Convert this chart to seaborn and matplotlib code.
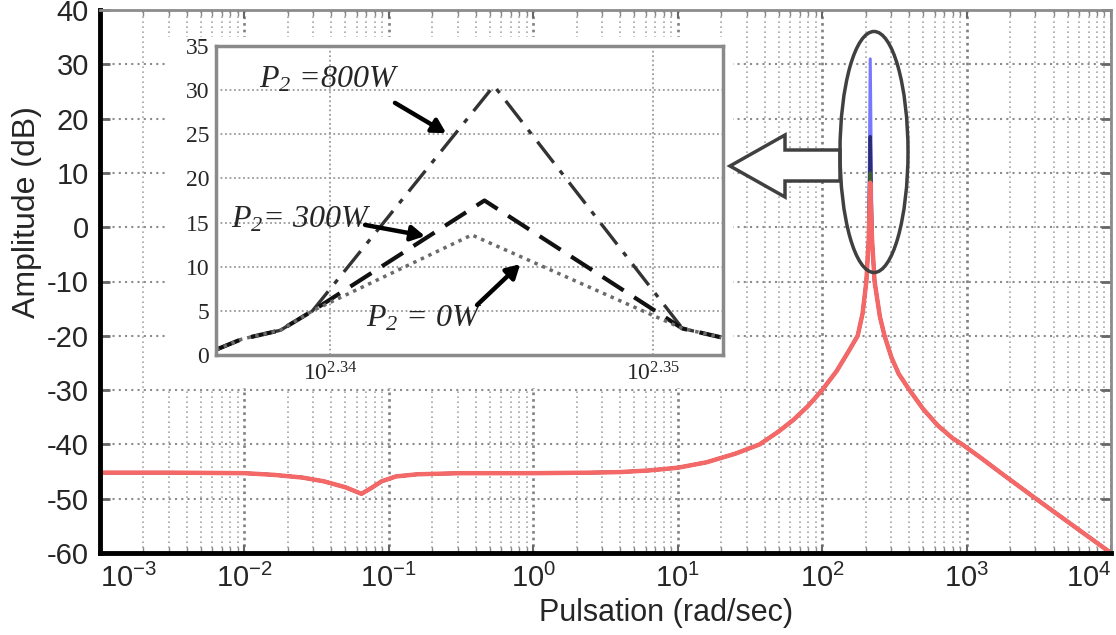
import numpy as np
import matplotlib
matplotlib.use("Agg")
import matplotlib.pyplot as plt
import seaborn as sns
from matplotlib.patches import Ellipse, Polygon, Rectangle
from matplotlib.ticker import FixedLocator, FixedFormatter, LogLocator, NullFormatter, NullLocator

# Diagramme de Bode (amplitude) : pulsation en rad/s, amplitude en dB
pulsation = [0.001, 0.00316, 0.01, 0.0158, 0.0251, 0.0355, 0.0501, 0.0646, 0.0759, 0.0891,
             0.112, 0.158, 0.316, 1.0, 2.51, 3.98, 6.31, 10.0, 15.8, 25.1,
             36.9, 50.1, 63.1, 79.4, 100.0, 125.9, 151.4, 176.2, 190.5, 202.3,
             209.9, 215.3, 221.3, 230.7, 251.2, 270.4, 302.0, 338.8, 402.7, 501.2,
             631.0, 794.3, 933.3, 1259.0, 1778.0, 3020.0, 5623.0, 10000.0]
amp_0w = [-45.2, -45.2, -45.3, -45.6, -46.1, -46.8, -47.9, -49.1, -48.0, -46.8,
          -45.9, -45.5, -45.3, -45.3, -45.2, -45.1, -44.8, -44.3, -43.3, -41.7,
          -40.0, -37.6, -35.5, -33.0, -30.0, -26.5, -23.0, -20.0, -15.9, -10.0,
          -2.5, 8.2, -2.0, -10.0, -16.5, -20.0, -24.0, -27.0, -30.0, -33.5,
          -36.5, -38.8, -40.0, -42.5, -45.5, -50.0, -55.2, -60.0]

# les courbes ne different qu'au pic de resonance
peak_pulsation = 215.3
peak_800w = 31.0
peak_300w = 16.7
peak_mid = 10.0

decades = [1e-3, 1e-2, 1e-1, 1e0, 1e1, 1e2, 1e3, 1e4]

# zoom autour du pic (encart)
zoom_w_0w = [217.0, 217.4, 218.0, 218.5, 221.0, 224.35, 224.97]
zoom_amp_0w = [0.6, 1.8, 2.8, 5.0, 13.6, 3.0, 2.0]
zoom_w_300w = [217.0, 217.4, 218.0, 218.5, 221.2, 224.35, 224.97]
zoom_amp_300w = [0.6, 1.8, 2.8, 5.0, 17.5, 3.0, 2.0]
zoom_w_800w = [217.0, 217.4, 218.0, 218.5, 221.35, 224.35, 224.97]
zoom_amp_800w = [0.6, 1.8, 2.8, 5.0, 30.5, 3.0, 2.0]
zoom_ticks_exp = [2.34, 2.35]
zoom_tick_labels = [r'$\mathdefault{10^{2.34}}$', r'$\mathdefault{10^{2.35}}$']

labels_p2 = [r'$\mathdefault{P_2}$ =800W', r'$\mathdefault{P_2}$= 300W', r'$\mathdefault{P_2}$ = 0W']


def with_peak(peak):
    return [peak if w == peak_pulsation else a for w, a in zip(pulsation, amp_0w)]


amp_800w = with_peak(peak_800w)
amp_300w = with_peak(peak_300w)
amp_mid = with_peak(peak_mid)

sns.set_style('white')
plt.rcParams['font.family'] = ['Liberation Sans', 'DejaVu Sans']
plt.rcParams['mathtext.fontset'] = 'custom'
plt.rcParams['mathtext.rm'] = 'Liberation Sans'
plt.rcParams['mathtext.it'] = 'Liberation Sans:italic'
plt.rcParams['mathtext.bf'] = 'Liberation Sans:bold'
plt.rcParams['axes.unicode_minus'] = False

W, H = 1116, 635
fig = plt.figure(figsize=(W / 100, H / 100), dpi=100)


def fig_xy(x, y):
    # pixels de l'image -> fraction de figure
    return x / W, 1 - y / H


# --- axe principal ---
l, b = fig_xy(100, 553)
r, t = fig_xy(1111, 10)
ax = fig.add_axes([l, b, r - l, t - b])
ax.set_xscale('log')

curves = [(amp_800w, '#7878ff', 2.2), (amp_300w, '#2b2b7a', 2.4),
          (amp_mid, '#3d5c2e', 2.4), (amp_0w, '#f46868', 3.2)]
for amp, color, lw in curves:
    sns.lineplot(x=pulsation, y=amp, ax=ax, color=color, linewidth=lw,
                 estimator=None, sort=False)

ax.set_xlim(1e-3, 1e4)
ax.set_ylim(-60, 40)
ax.set_yticks(range(-60, 41, 10))
ax.xaxis.set_major_locator(FixedLocator(decades))
ax.xaxis.set_minor_locator(LogLocator(base=10, subs=np.arange(2, 10), numticks=100))
ax.xaxis.set_minor_formatter(NullFormatter())

ax.grid(which='major', axis='y', color='#8c8c8c', linestyle=(0, (1, 2)), linewidth=1.5)
ax.grid(which='major', axis='x', color='#808080', linestyle=(0, (1, 1.5)), linewidth=1.9)
ax.grid(which='minor', axis='x', color='#a6a6a6', linestyle=(0, (1, 2)), linewidth=1.2)

for side in ['left', 'bottom']:
    ax.spines[side].set_color('black')
    ax.spines[side].set_linewidth(3.5)
for side in ['top', 'right']:
    ax.spines[side].set_color('#8c8c8c')
    ax.spines[side].set_linewidth(2)

ax.tick_params(axis='y', which='major', direction='in', length=7, width=2, color='#666666',
               left=True, right=True, labelsize=21, pad=8)
ax.tick_params(axis='x', which='major', direction='in', length=6, width=1.5, color='#666666',
               bottom=True, top=True, labelsize=21, pad=8)
ax.tick_params(axis='x', which='minor', direction='in', length=4, width=1, color='#888888',
               bottom=True, top=True)

# premiere et derniere etiquette rentrees dans la figure
xticks = ax.xaxis.get_major_ticks()
xticks[0].label1.set_horizontalalignment('left')
xticks[-1].label1.set_horizontalalignment('right')

ax.set_xlabel('Pulsation (rad/sec)', fontsize=22)
ax.set_ylabel('Amplitude (dB)', fontsize=23)
ax.xaxis.set_label_coords(0.56, -0.083)
ax.yaxis.set_label_coords(-0.057, 0.627)

# fond blanc derriere l'encart
x0, y0 = fig_xy(168, 388)
x1, y1 = fig_xy(733, 37)
fig.add_artist(Rectangle((x0, y0), x1 - x0, y1 - y0, transform=fig.transFigure,
                         facecolor='white', edgecolor='none', zorder=1))

# --- encart (zoom sur le pic) ---
l, b = fig_xy(216, 355)
r, t = fig_xy(723, 46)
axin = fig.add_axes([l, b, r - l, t - b], zorder=2)
axin.set_facecolor('white')
axin.set_xscale('log')

sns.lineplot(x=zoom_w_800w, y=zoom_amp_800w, ax=axin, color='#333333', linewidth=2.4,
             linestyle=(0, (8, 3, 1.5, 3)), estimator=None, sort=False)
sns.lineplot(x=zoom_w_300w, y=zoom_amp_300w, ax=axin, color='#111111', linewidth=3.0,
             linestyle=(0, (6, 3)), estimator=None, sort=False)
sns.lineplot(x=zoom_w_0w, y=zoom_amp_0w, ax=axin, color='#6a6a6a', linewidth=2.5,
             linestyle=(0, (1, 1.4)), estimator=None, sort=False)

axin.set_xlim(217.0, 225.0)
axin.set_ylim(0, 35)
axin.set_yticks(range(0, 36, 5))
axin.xaxis.set_major_locator(FixedLocator([10 ** e for e in zoom_ticks_exp]))
axin.xaxis.set_major_formatter(FixedFormatter(zoom_tick_labels))
axin.xaxis.set_minor_locator(NullLocator())
axin.tick_params(labelsize=17, length=0, pad=5, labelfontfamily='Liberation Serif')
axin.grid(True, color='#9a9a9a', linestyle=(0, (1, 1.5)), linewidth=1.3)
for side in axin.spines.values():
    side.set_color('#8a8a8a')
    side.set_linewidth(2.5)

# etiquettes P2 avec fleches (fractions d'axe de l'encart)
text_pos = [(0.085, 0.89), (0.03, 0.437), (0.296, 0.117)]
arrow_tail = [(0.353, 0.816), (0.294, 0.421), (0.515, 0.162)]
arrow_head = [(0.454, 0.718), (0.412, 0.385), (0.600, 0.294)]
for label, pos, tail, head in zip(labels_p2, text_pos, arrow_tail, arrow_head):
    axin.text(pos[0], pos[1], label, transform=axin.transAxes, fontsize=23,
              fontfamily='Liberation Serif', fontstyle='italic', va='center', ha='left')
    axin.annotate('', xy=head, xytext=tail, xycoords='axes fraction', textcoords='axes fraction',
                  arrowprops=dict(arrowstyle='-|>,head_length=0.8,head_width=0.45', lw=3.2,
                                  color='black', shrinkA=0, shrinkB=0))

# grosse fleche creuse et ellipse autour du pic
arrow_px = [(840, 150), (785, 150), (785, 135), (730, 166), (785, 197), (785, 181), (840, 181)]
fig.add_artist(Polygon([fig_xy(x, y) for x, y in arrow_px], closed=True, transform=fig.transFigure,
                       facecolor='white', edgecolor='#404040', linewidth=2.5, zorder=3))
fig.add_artist(Ellipse(fig_xy(874, 152), 68 / W, 241 / H, transform=fig.transFigure,
                       fill=False, edgecolor='#404040', linewidth=2.5, zorder=4))

fig.savefig('out.png', dpi=100)
